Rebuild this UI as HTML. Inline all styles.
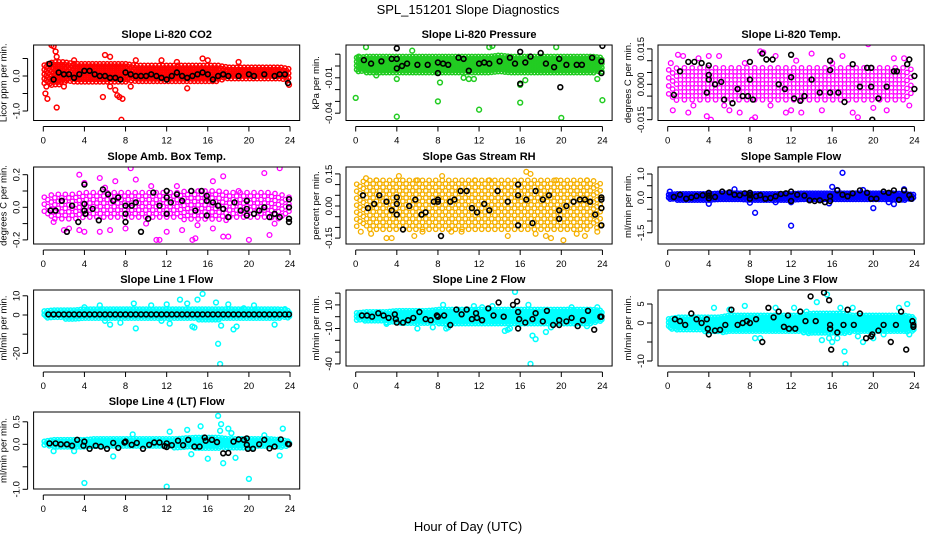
<!DOCTYPE html>
<html><head><meta charset="utf-8"><title>SPL_151201 Slope Diagnostics</title>
<style>
html,body{margin:0;padding:0;background:#fff;}
svg{display:block;font-family:"Liberation Sans",Arial,sans-serif;}
</style></head>
<body>
<svg id="chart" width="936" height="540" viewBox="0 0 936 540" xmlns="http://www.w3.org/2000/svg">
<rect width="936" height="540" fill="#fff"/>
<text x="468" y="14" text-anchor="middle" font-size="13">SPL_151201  Slope Diagnostics</text>
<text x="468" y="531" text-anchor="middle" font-size="13">Hour of Day (UTC)</text>
</svg>
<script>
// ---- data (hours 0..24 band limits, outliers [hour,value], black points [hour,value]) ----
const hourTicks = [0,4,8,12,16,20,24];
const co2Lo = [-0.2,-0.3,-0.2,-0.2,-0.2,-0.2,-0.2,-0.2,-0.2,-0.15,-0.15,-0.15,-0.15,-0.15,-0.15,-0.15,-0.15,-0.15,-0.1,-0.1,-0.1,-0.1,-0.1,-0.1,-0.15];
const co2Hi = [0.3,0.4,0.4,0.35,0.35,0.35,0.35,0.35,0.35,0.3,0.3,0.3,0.3,0.3,0.3,0.3,0.3,0.3,0.25,0.25,0.25,0.25,0.25,0.25,0.2];
const co2Out = [[0.8,0.88],[1.0,0.85],[1.2,0.7],[1.3,0.55],[0.2,-0.5],[0.4,-0.65],[1.3,-0.9],[7.6,-1.25],[6.0,0.6],[6.5,0.55],[7.0,-0.4],[7.2,-0.55],[7.4,-0.6],[7.7,-0.65],[6.5,-0.3],[5.8,-0.6],[13,0.4],[15.5,0.5],[11.5,0.45],[3,0.45],[9,0.45],[0.3,-0.3],[2,-0.3],[8.5,-0.3],[14,-0.35],[23.9,-0.25],[16,0.45],[19,0.4]];
const co2Black = [[0.6,0.35],[1.0,-0.1],[1.5,0.1],[2.0,0.05],[2.5,0.05],[3.0,-0.05],[3.5,0.05],[4.0,0.15],[4.5,0.15],[5,0.05],[5.5,0],[6,0],[6.5,-0.05],[7,-0.05],[7.5,-0.1],[8,0.1],[8.5,0.05],[9,0],[9.5,0],[10,0],[10.5,0.05],[11,0],[11.5,-0.05],[12,-0.1],[12.5,0],[13,0.1],[13.5,0],[14,-0.05],[14.5,0],[15,0.05],[15.5,0.1],[16,0.05],[16.5,-0.1],[17,0],[17.5,0.05],[18,0],[19,0],[20,0.05],[20.5,0],[21.5,0.05],[22.5,0],[23,0.05],[23.5,0.05],[23.8,-0.2]];

const presLo = [-0.005,-0.006,-0.006,-0.006,-0.006,-0.006,-0.006,-0.006,-0.006,-0.006,-0.006,-0.006,-0.006,-0.006,-0.006,-0.006,-0.006,-0.006,-0.006,-0.006,-0.006,-0.006,-0.006,-0.006,-0.005];
const presHi = [0.007,0.008,0.008,0.008,0.008,0.008,0.008,0.008,0.008,0.008,0.008,0.008,0.008,0.008,0.009,0.008,0.008,0.008,0.008,0.008,0.008,0.008,0.008,0.008,0.007];
const presOut = [[1,0.016],[0,-0.027],[4,-0.043],[8,-0.03],[12,-0.037],[16,-0.031],[20,-0.044],[24,-0.029],[13,0.016],[13.3,0.017],[16.5,-0.012],[16,-0.016],[8.2,-0.014],[4,-0.011],[10.5,-0.01],[11,-0.011],[11.5,-0.011],[5.5,0.013],[19.5,0.016],[23.5,-0.011],[0.3,0.008],[2,-0.008]];
const presBlack = [[0.8,0.005],[1.5,0.002],[2.5,0.004],[3.5,0.006],[4,0.015],[4,0.006],[4,-0.002],[4.5,0],[5,0.002],[6,0.001],[7,0.001],[8,0.003],[8,-0.006],[8.5,0.002],[9,0.001],[10,0.007],[10.5,0.006],[11,-0.004],[12,0.002],[12.5,0.003],[13,0.002],[14,0.004],[15,0.007],[15.5,0.002],[16,0.012],[16,-0.015],[16.5,0.003],[17,0.008],[18,0.011],[18.5,0.002],[19.3,-0.001],[19.8,0.006],[19.9,-0.018],[20.5,0.001],[21.5,0.001],[22,0.001],[23,0.007],[24,0.017],[23.9,0.004],[23.9,-0.006]];

const tempLo = [-0.006,-0.007,-0.007,-0.007,-0.007,-0.007,-0.007,-0.007,-0.007,-0.007,-0.007,-0.007,-0.007,-0.007,-0.007,-0.007,-0.007,-0.007,-0.007,-0.007,-0.007,-0.007,-0.007,-0.007,-0.006];
const tempHi = [0.006,0.007,0.007,0.007,0.007,0.007,0.007,0.007,0.007,0.007,0.007,0.007,0.007,0.007,0.007,0.007,0.007,0.007,0.007,0.007,0.007,0.007,0.007,0.007,0.006];
const tempOut = [[0.5,-0.011],[1,0.0125],[1.5,0.012],[2,-0.012],[3,0.011],[4,0.012],[5,0.012],[3.8,-0.0135],[4.2,-0.015],[6,-0.011],[7,-0.012],[8.2,-0.015],[8.5,-0.014],[9,0.014],[9.3,0.0135],[10.5,0.012],[11.5,-0.012],[12,-0.011],[13,-0.012],[14,0.013],[15,-0.011],[17,0.012],[18,-0.012],[18.5,-0.014],[19.5,0.017],[21.3,-0.011],[22,0.011],[23,0.011],[2.5,-0.009],[5.5,-0.009],[10,-0.009],[16,0.009],[20,-0.01],[23.5,-0.009],[0.3,0.009],[7.5,0.009],[12.5,0.01]];
const tempBlack = [[0.6,-0.0045],[1.2,0.0055],[2,0.0095],[2.6,0.0095],[3.3,0.009],[3.8,-0.0035],[4,0.008],[4,0.004],[4,0.002],[4.6,0],[5.2,0.001],[5.5,-0.0065],[6.3,-0.008],[6.8,-0.002],[7.3,-0.005],[7.8,-0.005],[8,-0.0165],[8,0.002],[8,0.0095],[8.3,-0.0065],[9.2,0.013],[9.6,0.0105],[10.2,0.0105],[10.8,0],[11.4,-0.002],[12,0.0125],[12,0.003],[12.3,-0.006],[12.9,-0.007],[13.3,-0.005],[14,0.002],[14.8,-0.0035],[15.8,0.01],[15.8,0.006],[15.8,-0.0035],[16.6,-0.0035],[17.2,-0.0075],[18,0.0085],[18.7,-0.001],[19.4,0.007],[19.8,0.007],[19.8,-0.001],[19.9,-0.015],[20.5,-0.006],[21.3,-0.001],[22,0.0055],[22.3,0.0055],[23.3,0.0085],[23.5,0.0105],[24,0.0035],[24,-0.002],[24,-0.025]];

const boxLo = [-0.06,-0.08,-0.08,-0.08,-0.08,-0.08,-0.08,-0.08,-0.08,-0.08,-0.08,-0.08,-0.08,-0.08,-0.08,-0.08,-0.08,-0.08,-0.08,-0.08,-0.08,-0.08,-0.08,-0.08,-0.06];
const boxHi = [0.06,0.08,0.08,0.08,0.09,0.09,0.09,0.09,0.09,0.09,0.09,0.09,0.09,0.09,0.1,0.1,0.1,0.1,0.09,0.09,0.09,0.09,0.09,0.08,0.06];
const boxOut = [[3.5,0.2],[4,0.15],[5.5,0.18],[7,0.16],[8.5,0.24],[9,0.17],[10.5,0.13],[13,0.13],[16.5,0.16],[17.5,0.19],[21.5,0.21],[23,0.24],[2,-0.14],[2.5,-0.13],[3.5,-0.14],[4,-0.15],[5.5,-0.15],[6.5,-0.14],[8,-0.13],[11,-0.2],[11.3,-0.2],[12,-0.15],[14.5,-0.2],[14.8,-0.19],[16.5,-0.13],[17.5,-0.18],[18,-0.18],[20,-0.2],[22,-0.17],[22.5,-0.1],[1,-0.09],[6,0.12],[19,0.1],[10,-0.1],[15,-0.11],[13.5,-0.14]];
const boxBlack = [[0.7,-0.02],[1.2,-0.02],[1.8,0.04],[2.3,-0.15],[2.8,0.01],[3.4,-0.09],[4,0.14],[4,0.02],[4,-0.02],[4.1,-0.04],[4.8,-0.01],[5.4,-0.08],[5.8,0.11],[6.3,0.08],[6.8,0.04],[7.3,0.06],[8,0.01],[8,-0.04],[8,-0.09],[8.6,0.01],[9,0.03],[9.5,-0.15],[10.2,-0.07],[10.7,0.09],[11.3,0.01],[12,0.1],[12,0.06],[12,-0.04],[12.4,0.03],[13,0.08],[13.5,0.04],[14.4,0.1],[14.8,-0.02],[15.4,0.1],[15.9,0.07],[15.9,0.04],[15.9,-0.05],[16.5,0.03],[17,0.01],[17.5,-0.01],[18,-0.06],[18.6,0.03],[19.2,-0.02],[19.8,0.04],[19.8,-0.01],[19.8,-0.05],[20.5,-0.04],[21,-0.02],[21.5,0],[22,-0.06],[22.5,-0.04],[23,-0.06],[23.9,0.05],[23.9,0],[23.9,-0.07],[23.9,-0.09]];

const rhLo = [-0.1,-0.11,-0.11,-0.11,-0.11,-0.11,-0.11,-0.11,-0.11,-0.11,-0.11,-0.11,-0.11,-0.11,-0.11,-0.11,-0.11,-0.11,-0.11,-0.11,-0.11,-0.11,-0.11,-0.11,-0.1];
const rhHi = [0.1,0.12,0.12,0.12,0.12,0.12,0.12,0.12,0.12,0.12,0.12,0.12,0.12,0.12,0.12,0.12,0.12,0.12,0.12,0.12,0.12,0.12,0.12,0.12,0.1];
const rhOut = [[0.5,-0.12],[1,0.13],[1.5,-0.13],[3,-0.15],[3.5,-0.15],[4.2,0.14],[5.7,-0.14],[6.5,-0.12],[8.4,0.14],[9.3,-0.12],[10.3,-0.12],[11.6,0.12],[14.8,-0.14],[16.6,0.16],[17,0.15],[17.5,-0.13],[18.5,-0.14],[19,-0.15],[20.2,-0.16],[21.5,-0.13],[22.3,-0.14],[23.5,-0.12],[2,0.12],[6,0.12],[13,0.12],[19.5,0.12],[22.5,0.12]];
const rhBlack = [[0.7,0.05],[1.2,-0.01],[1.8,0.01],[2.3,0.05],[3,0.02],[3.5,-0.02],[4,0.04],[4,0.01],[4,-0.04],[4.6,-0.11],[5.2,0],[5.8,0.03],[6.4,-0.04],[6.8,-0.03],[7.6,0.02],[8,0.02],[8,0.03],[8.3,-0.14],[9.2,0.02],[9.6,0.03],[10.2,0.07],[10.8,0.07],[11.3,-0.01],[11.8,-0.03],[12.5,0.01],[13,-0.02],[13.8,0.07],[14.8,0.02],[15.8,0.1],[15.8,0.05],[15.8,-0.09],[16.6,0.03],[17.2,-0.08],[17.5,0.07],[18.2,0.03],[18.8,0.05],[19.8,-0.02],[19.8,-0.06],[20.5,0],[21.2,0.02],[21.8,0.03],[22.3,0.03],[22.8,0.02],[23.3,-0.04],[23.9,0.04],[23.9,0.03],[23.9,-0.01],[23.9,-0.09]];

const sfLo = [-0.1,-0.12,-0.12,-0.12,-0.12,-0.12,-0.12,-0.12,-0.12,-0.12,-0.12,-0.12,-0.12,-0.12,-0.12,-0.12,-0.12,-0.12,-0.12,-0.12,-0.12,-0.12,-0.12,-0.12,-0.1];
const sfHi = [0.12,0.15,0.15,0.15,0.15,0.18,0.18,0.18,0.15,0.15,0.15,0.15,0.15,0.18,0.18,0.18,0.18,0.18,0.18,0.18,0.18,0.18,0.18,0.15,0.12];
const sfOut = [[12,-1.2],[17,1.05],[20,-0.45],[4,-0.27],[8.5,-0.65],[16,0.45],[8,-0.22],[15.7,-0.25],[16.5,0.32],[22,-0.28],[6.5,0.35],[0.2,0.25],[10.5,-0.2],[12,-0.2],[21.5,-0.2],[23,0.35],[19,0.32]];
const sfBlack = [[0.6,0.02],[1.2,0.12],[1.8,-0.05],[2.3,0],[2.8,0.06],[3.4,0.1],[4,0.2],[4,0.08],[4,-0.04],[4.6,0.02],[5.3,0.25],[6,0.22],[6.5,0.12],[7,0.1],[7.5,0.18],[8,0.2],[8,0.1],[8,-0.05],[8.6,0.05],[9,0.1],[9.5,-0.05],[10,-0.02],[10.5,0.05],[11,0.15],[11.5,0.18],[12,0.25],[12,-0.15],[12.6,0.12],[13.3,0.08],[13.8,-0.12],[14.3,-0.15],[14.8,-0.12],[15.3,-0.2],[15.8,0.05],[15.8,-0.15],[16.5,0.3],[17,0.12],[17.5,0.05],[18,0.18],[18.7,0.3],[19.4,0.2],[19.8,-0.05],[20.3,-0.05],[21,0.25],[21.5,0.2],[22,0.3],[22.5,-0.1],[23,0.3],[23.5,0.1],[23.7,-0.05]];

const l1Lo = [-1.5,-2,-2,-2.5,-2,-2,-2,-2,-2,-2,-2,-2,-2,-2,-2,-2.5,-2.5,-2.5,-2,-2,-2,-2,-2,-2,-1.5];
const l1Hi = [2,2.5,2.5,2.5,3,3,3,3,3,3,3,3,3,3,3,3,3,3,3,3,3,3,3,3,2];
const l1Out = [[17,-15],[17.2,-25.5],[15.5,11],[14.5,-6],[14.7,-6.5],[9,-7],[18.5,-7.5],[18.8,-6],[8.8,6],[13.3,8],[14,6],[15,8],[16.8,6.5],[17.3,-5.5],[18,5.5],[4,4],[5.5,5],[6.5,-5],[6,-3],[10.5,5],[12,5.5],[12.3,-4.5],[20.5,5],[22.5,-5],[7.5,-4],[11.5,-3],[19.5,3.5],[23.5,3]];
const l1Black = [[0.5,0.3],[1,0.3],[1.5,0.3],[2,0.3],[2.5,0.3],[3,0.3],[3.5,0.3],[4,0.3],[4.5,0.3],[5,0.3],[5.5,0.3],[6,0.3],[6.5,0.3],[7,0.3],[7.5,0.3],[8,0.3],[8.5,0.3],[9,0.3],[9.5,0.3],[10,0.3],[10.5,0.3],[11,0.3],[11.5,0.3],[12,0.3],[12.5,0.3],[13,0.3],[13.5,0.3],[14,0.3],[14.5,0.3],[15,0.3],[15.5,0.3],[16,0.3],[16.5,0.3],[17,0.3],[17.5,0.3],[18,0.3],[18.5,0.3],[19,0.3],[19.5,0.3],[20,0.3],[20.5,0.3],[21,0.3],[21.5,0.3],[22,0.3],[22.5,0.3],[23,0.3],[23.5,0.3],[23.9,0.3]];

const l2Lo = [-3,-4,-4,-5,-5,-6,-6,-6,-6,-6,-6,-6,-6,-6,-6,-6,-6,-6,-6,-6,-6,-6,-6,-6,-4];
const l2Hi = [3,4,4,4,5,5,5,5,6,6,6,6,6,6,6,6,6,6,6,6,6,6,6,6,5];
const l2Out = [[15.5,21],[17,-40],[17.2,-16],[17.5,-19],[14.5,-12],[14.8,-11],[16.8,10],[8.5,10],[12.3,8],[13.3,9],[6,-10],[7.5,-9],[8.8,-10],[9,-9],[18.5,-13],[19,-9],[22.5,-8],[23.5,8],[15,-10],[3,-6],[21,8],[11.5,9]];
const l2Black = [[0.6,1],[1.1,1],[1.6,0],[2.2,3],[2.7,1],[3.2,-1],[3.8,2],[3.9,-2],[4,-5],[4.6,-5],[5.1,-3],[5.6,-1],[6.2,4],[6.8,-2],[7.3,-3],[7.9,1],[8,0],[8.6,1],[9.2,-7],[9.8,6],[10.3,2],[10.8,6],[11.3,-2],[11.7,3],[11.8,-1],[12.3,-3],[12.9,7],[13.4,1],[13.9,12],[14.4,0],[15.3,10],[15.7,13],[15.8,4],[15.8,-10],[15.9,-2],[16.5,-5],[17.2,-2],[17.5,3],[18.2,-4],[18.6,5],[19.2,-7],[19.8,-3],[19.8,-7],[20.5,-4],[21,-1],[21.6,-8],[22.1,-3],[22.6,5],[23.2,-11],[23.8,0],[23.9,0]];

const l3Lo = [-1.5,-2,-2,-2,-2.5,-2.5,-2.5,-2.5,-2.5,-2.5,-2.5,-2.5,-2.5,-2.5,-3,-3,-3,-3,-2.5,-2.5,-2.5,-2.5,-2.5,-2.5,-2];
const l3Hi = [1,1.5,1.5,1.5,1.5,1.5,2,2,2,2,2,2,2,2,2.5,2.5,2.5,2.5,2,2,2,2,2,2,1.5];
const l3Out = [[17.3,-10.8],[17.2,-7.5],[15.5,7.5],[14.5,5.5],[16.8,4],[18,4],[4.5,4],[6,3.5],[7.5,4.5],[8.5,-4],[9,-4],[10.5,4],[12.3,4],[13.5,3],[15,-4.5],[15.7,-4],[16,-5],[16.5,-4],[18.5,-3.5],[20,-4],[21,-3],[22.5,4],[23.3,5],[23.5,-3],[19,-5]];
const l3Black = [[0.7,1],[1.2,0.5],[1.7,-0.5],[2.3,2.5],[2.8,1],[3.3,0],[3.8,1],[3.9,-1.5],[4,-3],[4.6,-2],[5.1,-1.8],[5.6,-0.5],[6.2,3.5],[6.8,-0.5],[7.3,0],[7.7,0.5],[8,0],[8.6,1],[9.2,-5],[9.8,4],[10.3,1.5],[10.8,3],[11.3,-1],[11.7,2],[11.8,-1.5],[12.4,-1.5],[12.9,3],[13.4,0.5],[13.9,7],[14.4,0.5],[15.2,8],[15.7,6],[15.8,-0.5],[15.8,-1.5],[15.9,-7],[16.5,-2.5],[17.1,-0.5],[17.5,3.5],[18.1,-0.5],[18.7,2.5],[19.3,-4],[19.8,-3.5],[19.9,-3],[20.5,-2],[21,-0.5],[21.7,-5],[22.2,-0.5],[22.7,3],[23.2,-7],[23.8,0.5],[23.9,-0.5],[23.9,-1]];

const l4Lo = [-0.04,-0.06,-0.06,-0.06,-0.06,-0.07,-0.07,-0.07,-0.07,-0.07,-0.07,-0.07,-0.07,-0.08,-0.08,-0.09,-0.09,-0.09,-0.08,-0.08,-0.08,-0.07,-0.07,-0.07,-0.04];
const l4Hi = [0.06,0.1,0.1,0.1,0.1,0.12,0.12,0.12,0.12,0.12,0.12,0.12,0.12,0.12,0.14,0.15,0.15,0.15,0.12,0.12,0.12,0.12,0.12,0.1,0.06];
const l4Out = [[4,-0.86],[12,-0.94],[20,-0.77],[17,0.63],[17.3,0.45],[17.5,-0.42],[17.2,0.3],[18,0.35],[18.3,0.25],[23.3,0.35],[15.3,0.4],[14,0.32],[12.3,0.28],[8.7,0.22],[16,-0.32],[18.7,-0.3],[6.8,-0.27],[23,-0.25],[14.4,-0.22],[1,-0.15],[3,-0.15],[21.5,0.2]];
const l4Black = [[0.6,0.02],[1.2,0.02],[1.7,0],[2.3,0],[2.8,-0.03],[3.3,0.1],[3.9,-0.03],[4,0.06],[4.5,-0.1],[5.1,-0.03],[5.6,-0.05],[6.2,-0.1],[6.8,0.03],[7.3,-0.08],[7.9,0.04],[8,0.06],[8.6,-0.01],[9.1,0.03],[9.7,-0.1],[10.3,-0.01],[10.8,0.04],[11.3,0.04],[11.8,-0.04],[12,-0.06],[12,0.02],[12.5,-0.02],[13.1,0.08],[13.6,-0.02],[14.1,0.1],[14.7,-0.05],[15.2,-0.05],[15.7,0.15],[15.8,0.08],[16.4,0.1],[16.9,0.05],[17.5,-0.2],[18,-0.19],[18.5,0.06],[19,0.11],[19.5,0.1],[19.8,0.13],[19.8,-0.01],[19.9,-0.1],[20.4,-0.1],[21,0],[21.5,0.1],[22,-0.09],[22.5,-0.05],[23.1,0.11],[23.8,0.01],[23.9,0]];

// ---- layout ----
const PX_PER_HOUR = 10.28;
const panels = [
 {id:'co2',title:'Slope Li-820 CO2',ylab:'Licor ppm per min.',x0:43.3,top:45,bot:120.5,zero:76,k:35,ticks:[-1,-0.5,0,0.5],labels:{'-1':'-1.0','0':'0.0'},col:'#ff0000',lo:co2Lo,hi:co2Hi,out:co2Out,blk:co2Black,dx:0.18,dy:4.5,sw:1.5},
 {id:'pressure',title:'Slope Li-820 Pressure',ylab:'kPa per min.',x0:355.7,top:45,bot:120.5,zero:66,k:1180,ticks:[-0.04,-0.03,-0.02,-0.01,0,0.01],labels:{'-0.04':'-0.04','-0.01':'-0.01'},col:'#22cc22',lo:presLo,hi:presHi,out:presOut,blk:presBlack,dx:0.16,dy:4,sw:1.5},
 {id:'temp',title:'Slope Li-820 Temp.',ylab:'degrees C per min.',x0:667.7,top:45,bot:120.5,zero:84.3,k:2360,ticks:[-0.015,-0.01,-0.005,0,0.005,0.01,0.015],labels:{'-0.015':'-0.015','0':'0.000','0.015':'0.015'},col:'#ff00ff',lo:tempLo,hi:tempHi,out:tempOut,blk:tempBlack,dx:0.38,dy:8,sw:1.3},
 {id:'box-temp',title:'Slope Amb. Box Temp.',ylab:'degrees C per min.',x0:43.3,top:167,bot:244,zero:207.3,k:163,ticks:[-0.2,-0.1,0,0.1,0.2],labels:{'-0.2':'-0.2','0':'0.0','0.2':'0.2'},col:'#ff00ff',lo:boxLo,hi:boxHi,out:boxOut,blk:boxBlack,dx:0.34,dy:7,sw:1.3},
 {id:'rh',title:'Slope Gas Stream RH',ylab:'percent per min.',x0:355.7,top:167,bot:244,zero:206,k:214,ticks:[-0.15,-0.1,-0.05,0,0.05,0.1,0.15],labels:{'-0.15':'-0.15','0':'0.00','0.15':'0.15'},col:'#f5b000',lo:rhLo,hi:rhHi,out:rhOut,blk:rhBlack,dx:0.32,dy:7,sw:1.3},
 {id:'sample-flow',title:'Slope Sample Flow',ylab:'ml/min per min.',x0:667.7,top:167,bot:244,zero:197.5,k:23.5,ticks:[-1.5,-1,-0.5,0,0.5,1],labels:{'-1.5':'-1.5','0':'0.0','1':'1.0'},col:'#0000ff',lo:sfLo,hi:sfHi,out:sfOut,blk:sfBlack,dx:0.14,dy:3,sw:1.5},
 {id:'line1-flow',title:'Slope Line 1 Flow',ylab:'ml/min per min.',x0:43.3,top:290,bot:366,zero:315,k:1.92,ticks:[-20,-10,0,10],labels:{'-20':'-20','0':'0','10':'10'},col:'#00ffff',lo:l1Lo,hi:l1Hi,out:l1Out,blk:l1Black,dx:0.16,dy:3.5,sw:1.5},
 {id:'line2-flow',title:'Slope Line 2 Flow',ylab:'ml/min per min.',x0:355.7,top:290,bot:366,zero:316.7,k:1.18,ticks:[-40,-30,-20,-10,0,10,20],labels:{'-40':'-40','-10':'-10','10':'10'},col:'#00ffff',lo:l2Lo,hi:l2Hi,out:l2Out,blk:l2Black,dx:0.16,dy:3.5,sw:1.5},
 {id:'line3-flow',title:'Slope Line 3 Flow',ylab:'ml/min per min.',x0:667.7,top:290,bot:366,zero:323,k:3.8,ticks:[-10,-5,0,5],labels:{'-10':'-10','0':'0','5':'5'},col:'#00ffff',lo:l3Lo,hi:l3Hi,out:l3Out,blk:l3Black,dx:0.16,dy:3.5,sw:1.5},
 {id:'line4-flow',title:'Slope Line 4 (LT) Flow',ylab:'ml/min per min.',x0:43.3,top:412,bot:489,zero:444.3,k:45,ticks:[-1,-0.5,0,0.5],labels:{'-1':'-1.0','0':'0.0','0.5':'0.5'},col:'#00ffff',lo:l4Lo,hi:l4Hi,out:l4Out,blk:l4Black,dx:0.16,dy:3.5,sw:1.5}
];

const NS='http://www.w3.org/2000/svg';
const svg=document.getElementById('chart');
function mk(tag,attrs,parent){const e=document.createElementNS(NS,tag);for(const k in attrs)e.setAttribute(k,attrs[k]);parent.appendChild(e);return e;}
function interp(arr,h){const i=Math.max(0,Math.min(23,Math.floor(h)));const f=h-i;return arr[i]*(1-f)+arr[i+1]*f;}

panels.forEach(p=>{
  const xs=h=>p.x0+h*PX_PER_HOUR;
  const ys=v=>p.zero-v*p.k;
  const left=p.x0-9.7, right=p.x0+256.4;
  const g=mk('g',{},svg);
  
  
  const cid='clip-'+p.id;
  const cp=mk('clipPath',{id:cid},g);
  mk('rect',{x:left,y:p.top,width:right-left,height:p.bot-p.top},cp);
  const title=mk('text',{x:(left+right)/2,y:p.top-7,'text-anchor':'middle','font-size':'11','font-weight':'bold'},g);
  title.textContent=p.title;
  
  
  const pts=mk('g',{'clip-path':'url(#'+cid+')',fill:'none','stroke-width':String(p.sw)},g);
  
  
  const cg=mk('g',{stroke:p.col},pts);
  
  
  let col=0;
  for(let h=0.1;h<=23.95;h+=p.dx){
    const lo=interp(p.lo,h), hi=interp(p.hi,h);
    const yTop=ys(hi), yBot=ys(lo);
    const off=(col%2)*p.dy/2;
    for(let y=yTop+off;y<=yBot;y+=p.dy){
      const c=mk('circle',{cx:xs(h).toFixed(1),cy:y.toFixed(1),r:2.2},cg);
      
      
    }
    col++;
  }
  p.out.forEach(d=>{
    const c=mk('circle',{cx:xs(d[0]).toFixed(1),cy:ys(d[1]).toFixed(1),r:2.4},cg);
    
    
  });
  const bg=mk('g',{stroke:'#000','stroke-width':'1.6'},pts);
  
  
  p.blk.forEach(d=>{
    const c=mk('circle',{cx:xs(d[0]).toFixed(1),cy:ys(d[1]).toFixed(1),r:2.4},bg);
    
    
  });
  const fr=mk('rect',{x:left,y:p.top,width:right-left,height:p.bot-p.top,fill:'none',stroke:'#000','stroke-width':'1'},g);
  
  
  const xa=mk('g',{},g);
  
  
  mk('line',{x1:xs(0),x2:xs(24),y1:p.bot+6,y2:p.bot+6,stroke:'#000'},xa);
  hourTicks.forEach(t=>{
    mk('line',{x1:xs(t),x2:xs(t),y1:p.bot+6,y2:p.bot+11,stroke:'#000'},xa);
    const tl=mk('text',{x:xs(t),y:p.bot+23,'text-anchor':'middle','font-size':'9.5'},xa);
    tl.textContent=t;
    
    
  });
  const ya=mk('g',{},g);
  
  
  const tv=p.ticks;
  mk('line',{x1:left-6,x2:left-6,y1:ys(tv[0]),y2:ys(tv[tv.length-1]),stroke:'#000'},ya);
  tv.forEach(t=>{
    mk('line',{x1:left-11,x2:left-6,y1:ys(t),y2:ys(t),stroke:'#000'},ya);
    const key=String(t);
    if(p.labels[key]!==undefined){
      const yy=ys(t), xx=left-14;
      const tl=mk('text',{x:xx,y:yy,'text-anchor':'middle','font-size':'9.5',transform:'rotate(-90 '+xx+' '+yy+')'},ya);
      tl.textContent=p.labels[key];
      
      
    }
  });
  const lx=left-27, ly=(p.top+p.bot)/2;
  const yl=mk('text',{x:lx,y:ly,'text-anchor':'middle','font-size':'9.5',transform:'rotate(-90 '+lx+' '+ly+')'},g);
  yl.textContent=p.ylab;
  
  
});
</script>
</body></html>
